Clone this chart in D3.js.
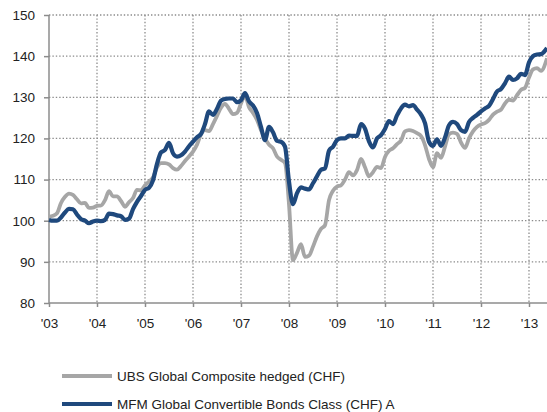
<!DOCTYPE html>
<html>
<head>
<meta charset="utf-8">
<script src="https://cdn.jsdelivr.net/npm/d3@7"></script>
<style>
  body { margin: 0; background: #fff; }
  text { font-family: "Liberation Sans", Arial, sans-serif; fill: #222; }
</style>
</head>
<body>
<div id="container"></div>
<script>
// monthly values, Jan 2003 .. May 2013
const startYear = 2003;
const yearLabels = ["'03", "'04", "'05", "'06", "'07", "'08", "'09", "'10", "'11", "'12", "'13"];
const yTicks = [80, 90, 100, 110, 120, 130, 140, 150];

const ubs = [
  101, 101.2, 101.8, 104.3, 105.8, 106.6, 106.3, 105.2, 104.2, 104.3, 103.1, 103.2,
  103.6, 103.7, 105, 107.2, 105.9, 105.9, 104.8, 103.4, 104.5, 105.5, 107.5, 107.4,
  108.6, 109.5, 110.5, 113, 114, 114, 113.7, 112.8, 112.4, 113.3, 114.5, 115.6,
  116.8, 118.5, 121, 122, 121.8, 123.5, 125.5, 127.5, 128.4, 127.2, 125.9, 126.2,
  128.5, 130.4, 127.6, 126.2, 124.5, 122, 120, 118.5, 117.6, 115.6, 114.8, 114,
  104, 90.4, 92.2, 94.3, 91.2, 91.5, 93.7, 96.2, 98, 98.9, 105, 107.3,
  108.3, 108.6, 110, 111.8, 111, 112.3, 115, 113, 110.8, 111.8, 113.1, 112.8,
  115.5, 117, 117.6, 118.6, 119.5, 121.7, 122, 121.8, 121.3, 120.6, 118.4, 115,
  113, 116.4, 115.3, 118, 121, 121.4, 121.1, 119, 117.7, 120, 121.7, 122.8,
  123.4, 123.7, 124.5, 125.8, 126.5, 127, 128.5, 129.4, 129.2, 130.5, 131.8, 132.3,
  134.8, 136.8, 137.1, 136.4, 139.5
];

const mfm = [
  100.2, 100, 100, 100.8, 102, 102.9, 102.8, 101.5, 100.4, 100, 99.4, 99.8,
  100, 99.9, 100.2, 101.7, 101.6, 101.3, 101.1, 100.2, 100.5, 102.8, 104.6, 106,
  107.5, 108, 109.8, 113.8, 116.6, 117.2, 118.9, 116.4, 115.6, 115.9, 116.8, 118.1,
  119.2, 120.3, 121.1, 123.5, 126.6, 125.7, 127.2, 129.2, 129.6, 129.7, 129.7, 128.8,
  129.3, 131, 129, 128, 126.2, 122.8, 119.6, 122.8, 121.5, 119.4, 119.2, 118,
  109.5, 104, 106.7, 108.1, 107.8, 107.6, 109.1, 110.8, 112.4, 112.7, 117, 118,
  119.6, 120, 120, 120.7, 120.6, 120.6, 123.5, 122.4, 119.3, 117.8, 120, 120.8,
  122.3, 124.2, 123.5, 125.6, 127.3, 128.2, 127.8, 128.1, 127, 125.8, 123.7, 119.2,
  118.2, 119.8, 118.2, 120.2, 123.2, 124, 123.5, 122, 121.6, 124, 125, 125.7,
  126.6, 127.3, 127.9, 129.6, 131.4, 132, 133.4, 135, 134.2, 134.6, 135.7, 135.4,
  138.5, 140, 140.4, 140.5, 142
];

const seriesNames = ["UBS Global Composite hedged (CHF)", "MFM Global Convertible Bonds Class (CHF) A"];
const seriesColors = ["#a6a6a6", "#1f497d"];

const width = 547, height = 412;

const svg = d3.select('#container').append('svg')
  .attr('width', width)
  .attr('height', height);

// months since Jan 2003 -> pixels; the last month (May 2013) runs to the edge
const x = d3.scaleLinear()
  .domain([0, 120])
  .range([49, 529]);

const y = d3.scaleLinear()
  .domain([80, 150])
  .range([303, 15]);

// grid lines
const grid = svg.append('g').attr('stroke', '#8c8c8c').attr('stroke-width', 1.3).attr('stroke-dasharray', '1.4 2');
grid.selectAll('line.h')
  .data(yTicks.filter(d => d > 80))
  .join('line')
  .attr('class', 'h')
  .attr('x1', 49).attr('x2', width)
  .attr('y1', d => y(d)).attr('y2', d => y(d));
grid.selectAll('line.v')
  .data(yearLabels.slice(1))
  .join('line')
  .attr('class', 'v')
  .attr('x1', (d, i) => x((i + 1) * 12)).attr('x2', (d, i) => x((i + 1) * 12))
  .attr('y1', y(150)).attr('y2', y(80));

// axes
const yAxis = svg.append('g')
  .attr('transform', `translate(${x(0)},0)`)
  .call(d3.axisLeft(y).tickValues(yTicks).tickSize(5).tickPadding(9));
const xAxis = svg.append('g')
  .attr('transform', `translate(0,${y(80)})`)
  .call(d3.axisBottom(x).tickValues(d3.range(0, 121, 12)).tickSize(4).tickPadding(11)
    .tickFormat((d, i) => yearLabels[i]));
[yAxis, xAxis].forEach(a => {
  a.select('.domain').attr('stroke', '#8c8c8c').attr('stroke-width', 1.5);
  a.selectAll('.tick line').attr('stroke', '#8c8c8c').attr('stroke-width', 1.5);
  a.selectAll('text').style('font-size', '13.5px').style('fill', '#222').style('font-family', '"Liberation Sans", Arial, sans-serif');
});
yAxis.select('.domain').attr('d', `M0,${y(80)}V${y(150)}`);
xAxis.select('.domain').attr('d', `M${x(0)},0H${width}`);

// lines
const line = d3.line()
  .x((d, i) => x(i === ubs.length - 1 ? i + 0.5 : i))
  .y(d => y(d))
  .curve(d3.curveMonotoneX);

svg.append('path')
  .datum(ubs)
  .attr('fill', 'none')
  .attr('stroke', seriesColors[0])
  .attr('stroke-width', 3.8)
  .attr('stroke-linejoin', 'round')
  .attr('d', line);

svg.append('path')
  .datum(mfm)
  .attr('fill', 'none')
  .attr('stroke', seriesColors[1])
  .attr('stroke-width', 4.2)
  .attr('stroke-linejoin', 'round')
  .attr('d', line);

// legend
const legend = svg.selectAll('g.legend')
  .data(seriesNames)
  .join('g')
  .attr('class', 'legend')
  .attr('transform', (d, i) => `translate(62,${376 + i * 28})`);
legend.append('line')
  .attr('x1', 0).attr('x2', 50)
  .attr('stroke', (d, i) => seriesColors[i])
  .attr('stroke-width', 4);
legend.append('text')
  .attr('x', 55)
  .attr('dy', '0.35em')
  .style('font-size', '13.5px')
  .text(d => d);
</script>
</body>
</html>
